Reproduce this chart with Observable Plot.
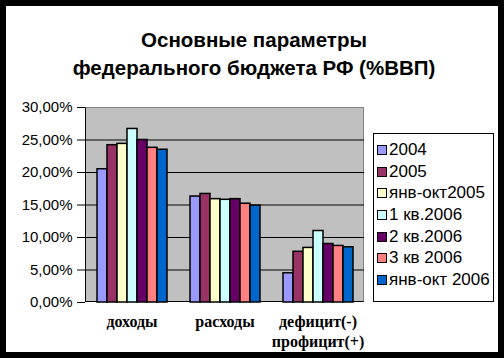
<!DOCTYPE html>
<html><head><meta charset="utf-8">
<script src="https://cdn.jsdelivr.net/npm/d3@7"></script>
<script src="https://cdn.jsdelivr.net/npm/@observablehq/plot@0.6"></script>
<style>
body{margin:0;background:#fff;}
#chart{position:relative;width:504px;height:358px;overflow:hidden;font-family:"Liberation Sans",Arial,sans-serif;background:#fff;}
#frame{position:absolute;left:0;top:0;width:504px;height:358px;box-sizing:border-box;border:6px solid #000;pointer-events:none;}
#title{position:absolute;left:0;width:508px;top:26px;text-align:center;font-weight:bold;font-size:20.5px;line-height:28px;color:#000;}
#bg{position:absolute;left:85px;top:107px;width:279px;height:195px;background:#c0c0c0;box-sizing:border-box;border-top:1px solid #808080;border-right:1px solid #808080;border-left:1px solid #000;border-bottom:1px solid #000;}
#plot{position:absolute;left:0;top:0;}
#legend{position:absolute;left:373px;top:133px;width:121px;height:169px;box-sizing:border-box;border:1px solid #000;background:#fff;padding:5px 0 0 3px;}
.item{height:21.7px;display:flex;align-items:center;font-size:17px;white-space:nowrap;}
.sw{width:8px;height:8px;border:1px solid #000;margin-right:2px;flex:none;}
</style></head>
<body>
<div id="chart">
  <div id="bg"></div>
  <div id="plot"></div>
  <div id="legend"></div>
  <div id="title">Основные параметры<br>федерального бюджета РФ (%ВВП)</div>
  <div id="frame"></div>
</div>
<script>
const categories = ["доходы", "расходы", "дефицит(-)\nпрофицит(+)"];
const series = ["2004", "2005", "янв-окт2005", "1 кв.2006", "2 кв.2006", "3 кв 2006", "янв-окт 2006"];
const colors = ["#9999ff", "#993366", "#ffffcc", "#ccffff", "#660066", "#ff8080", "#0066cc"];
const revenues = [20.5, 24.2, 24.4, 26.7, 25.0, 23.8, 23.5];
const expenditures = [16.3, 16.7, 15.9, 15.8, 15.9, 15.2, 14.9];
const balance = [4.5, 7.8, 8.4, 11.0, 9.0, 8.7, 8.5];
const yTicks = [0, 5, 10, 15, 20, 25, 30];

const valuesByCategory = [revenues, expenditures, balance];
const data = [];
categories.forEach((c, i) => series.forEach((s, j) => data.push({category: c, series: s, value: valuesByCategory[i][j]})));

const fmt = d => d.toFixed(2).replace(".", ",") + "%";

const svg = Plot.plot({
  width: 504, height: 358,
  marginLeft: 85, marginRight: 140, marginTop: 107, marginBottom: 56,
  style: {background: "transparent", overflow: "visible"},
  fx: {domain: categories, padding: 0, label: null},
  x: {domain: series, paddingInner: 0, paddingOuter: 0.75, axis: null},
  y: {domain: [0, 30], label: null},
  color: {domain: series, range: colors},
  marks: [
    Plot.ruleY(yTicks.filter(d => d > 0 && d < 30), {stroke: "#000", strokeWidth: 1}),
    Plot.barY(data, {fx: "category", x: "series", y: "value", fill: "series", stroke: "#000", strokeWidth: 1.5, inset: 0}),
    Plot.axisY({ticks: yTicks, tickSize: 8, tickPadding: 5, tickFormat: fmt, fontSize: 15, fontFamily: "Liberation Sans", label: null, stroke: "#000", fill: "#000"}),
    Plot.axisFx({anchor: "bottom", tickSize: 0, tickPadding: 10, fontSize: 16, fontWeight: "bold", fontFamily: "Liberation Serif", lineHeight: 1.25, label: null, fill: "#000"})
  ]
});
document.getElementById("plot").appendChild(svg);

const legend = document.getElementById("legend");
series.forEach((s, i) => {
  const it = document.createElement("div");
  it.className = "item";
  const sw = document.createElement("span");
  sw.className = "sw";
  sw.style.background = colors[i];
  it.appendChild(sw);
  it.appendChild(document.createTextNode(s));
  legend.appendChild(it);
});
</script>
</body></html>
